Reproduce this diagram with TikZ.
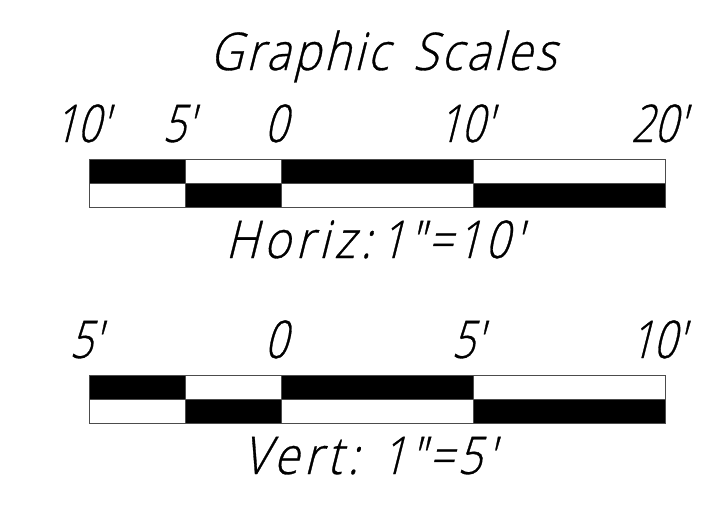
\documentclass[tikz,border=0pt]{standalone}
\usepackage{fontspec}
\setmainfont[FakeSlant=0.25,FakeStretch=0.88,FakeBold=0.6,LetterSpace=6,WordSpace=1.6]{Open Sans Light}
\newfontfamily\numfont[FakeSlant=0.25,FakeStretch=0.78,FakeBold=0.6,LetterSpace=0]{Open Sans Light}
\newfontfamily\widefont[FakeSlant=0.25,FakeStretch=0.88,FakeBold=0.6,LetterSpace=10]{Open Sans Light}
\newfontfamily\eqfont[FakeSlant=0.25,FakeStretch=0.82,FakeBold=0.6,LetterSpace=8]{Open Sans Light}
\tikzset{
 blk/.style={draw=black!70,line width=1pt,fill=black},
 wht/.style={draw=black!70,line width=1pt,fill=white},
 lab/.style={inner sep=0pt,font=\fontsize{52}{52}\selectfont,text=black,anchor=base},
 num/.style={lab,font=\fontsize{52}{52}\numfont},
 wide/.style={lab,font=\fontsize{52}{52}\widefont}
}
\newcommand{\pr}{\char"0027\relax}
\newcommand{\dpr}{\char"0022\relax}
\begin{document}
\begin{tikzpicture}[x=1pt,y=-1pt]
\useasboundingbox (0,0) rectangle (725,509);
\fill[white] (0,0) rectangle (725,509);
\foreach \t/\m/\b in {159/183/207,375/399/423}{
  \path[wht] (89,\t) rectangle (185,\m);
  \path[wht] (185,\t) rectangle (281,\m);
  \path[wht] (281,\m) rectangle (473,\b);
  \path[wht] (89,\m) rectangle (185,\b);
  \path[wht] (473,\t) rectangle (665,\m);
  \path[blk] (89,\t) rectangle (185,\m);
  \path[blk] (281,\t) rectangle (473,\m);
  \path[blk] (185,\m) rectangle (281,\b);
  \path[blk] (473,\m) rectangle (665,\b);
}
\node[lab] (title) at (383,70) {Graphic Scales};
\node[num] (h1) at (81,142) {10\pr};
\node[num] (h2) at (178,142) {5\pr};
\node[num] (h3) at (276,142) {0};
\node[num] (h4) at (465,142) {10\pr};
\node[num] (h5) at (658,142) {20\pr};
\node[wide] (hs) at (373.5,258) {Horiz:\hspace{9pt}{\eqfont 1\dpr=10\pr}};
\node[num] (v1) at (85,358) {5\pr};
\node[num] (v2) at (276,358) {0};
\node[num] (v3) at (467,358) {5\pr};
\node[num] (v4) at (657,358) {10\pr};
\node[wide] (vs) at (368.5,474) {Vert:\hspace{23pt}{\eqfont 1\dpr=5\pr}};
\end{tikzpicture}
\end{document}
